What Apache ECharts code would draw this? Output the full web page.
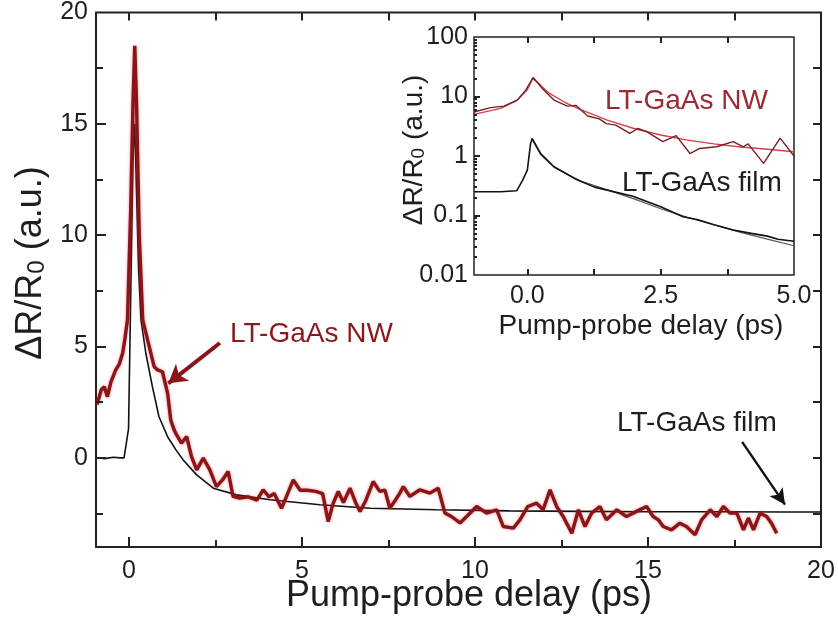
<!DOCTYPE html>
<html><head><meta charset="utf-8">
<script src="https://cdn.jsdelivr.net/npm/echarts@6/dist/echarts.min.js"></script>
<style>html,body{margin:0;padding:0;background:#fff}#c{width:838px;height:628px}</style>
</head><body><div id="c"></div>
<script>
// ---- Main panel data (linear axis) ----
const nwT = [-0.92,-0.8,-0.71,-0.62,-0.52,-0.38,-0.28,-0.18,-0.11,-0.04,0.05,0.12,0.17,0.22,0.3,0.4,0.54,0.73,0.83,0.97,1.12,1.21,1.31,1.38,1.52,1.67,1.81,1.96,2.15,2.34,2.53,2.7,2.87,3.01,3.2,3.45,3.7,3.88,4.05,4.2,4.41,4.55,4.75,4.95,5.15,5.4,5.6,5.76,5.9,6.05,6.2,6.39,6.55,6.68,6.85,7.06,7.25,7.4,7.54,7.7,7.83,7.93,8.12,8.41,8.7,8.94,9.13,9.32,9.57,9.76,10.05,10.34,10.63,10.82,11.11,11.3,11.53,11.78,11.97,12.17,12.36,12.55,12.8,12.99,13.18,13.37,13.61,13.8,14.1,14.38,14.67,14.96,15.15,15.3,15.44,15.68,15.92,16.11,16.36,16.55,16.8,16.99,17.18,17.37,17.57,17.76,17.9,18.05,18.24,18.43,18.57,18.72];
const nwV = [2.4,3.05,3.2,2.75,3.4,3.95,4.2,4.7,5.4,6.2,11,16,18.5,16,10,6.2,5.3,4.1,3.95,3.87,2.9,1.7,1.25,1.03,0.66,0.96,0.06,-0.54,-0.01,-0.54,-1.29,-1.0,-0.61,-1.73,-1.8,-1.75,-1.9,-1.43,-1.75,-1.6,-2.26,-1.75,-0.99,-1.45,-1.45,-1.5,-1.6,-2.86,-2.05,-1.51,-2.0,-1.36,-2.0,-2.41,-1.9,-1.06,-1.5,-1.45,-2.26,-1.9,-1.58,-1.29,-1.73,-1.43,-1.58,-1.36,-2.47,-2.63,-2.92,-2.63,-2.18,-2.48,-2.33,-3.08,-3.15,-2.78,-2.18,-2.03,-2.33,-1.43,-2.18,-2.63,-3.38,-2.33,-3.08,-2.48,-2.18,-2.78,-2.33,-2.63,-2.4,-2.18,-2.63,-2.78,-3.08,-3.23,-2.93,-3.08,-3.45,-2.78,-2.33,-2.63,-2.18,-2.48,-2.48,-3.23,-2.7,-3.23,-2.48,-2.63,-2.93,-3.38];
const filmT = [-0.95,-0.7,-0.45,-0.25,-0.14,-0.09,-0.01,0.05,0.12,0.17,0.22,0.28,0.35,0.49,0.68,0.87,1.12,1.36,1.57,1.96,2.44,3.11,4.08,5.52,6.97,8.89,11,13,15,17,19,20];
const filmV = [0.02,-0.03,0.03,0,0,0.5,1.3,7,13.5,15,12,8.5,6.2,4.7,3.2,1.85,0.95,0.36,-0.09,-0.76,-1.36,-1.66,-1.88,-2.1,-2.26,-2.33,-2.38,-2.4,-2.42,-2.42,-2.43,-2.43];

// ---- Inset data (log axis) ----
const inNwT = [-1.0,-0.69,-0.44,-0.19,-0.03,0.11,0.28,0.5,0.75,0.91,1.13,1.35,1.48,1.66,1.92,2.07,2.23,2.54,2.79,3.05,3.23,3.55,3.86,4.05,4.14,4.43,4.74,5.0];
const inNwV = [5.5,6.5,6.9,8.7,12.8,21,13.6,8.7,6.9,7.1,4.7,4.2,3.5,3.3,2.4,2.9,2.6,1.74,2.2,1.1,1.34,1.43,1.74,1.43,1.6,0.75,2.0,1.0];
const inNwFitT = [-1,-0.5,-0.2,0,0.1,0.2,0.4,0.7,1.0,1.5,2.0,2.5,3.0,3.5,4.0,4.5,5.0];
const inNwFitV = [5.0,6.3,8.5,13,20,17,11.5,8,6,4.0,2.9,2.25,1.85,1.6,1.42,1.3,1.18];
const inFilmT = [-1,-0.5,-0.2,-0.09,0,0.06,0.09,0.25,0.5,0.88,1.26,1.98,2.5,2.92,3.2,3.5,3.86,4.2,4.5,4.7,5.0];
const inFilmV = [0.25,0.25,0.26,0.39,0.58,1.6,1.97,1.1,0.66,0.42,0.30,0.21,0.14,0.095,0.085,0.07,0.057,0.05,0.045,0.04,0.037];
const inFilmFitT = [0.09,0.25,0.5,1.0,1.5,2.0,2.5,3.0,3.5,4.0,4.5,5.0];
const inFilmFitV = [1.9,1.05,0.65,0.38,0.27,0.19,0.13,0.093,0.07,0.052,0.04,0.031];

// ---- Tick values ----
const mainXLabels = [0,5,10,15,20];
const mainXMajor = [0,5,10,15];
const mainXMinor = [2.5,7.5,12.5,17.5];
const mainYLabels = [0,5,10,15,20];
const mainYMajor = [0,5,10,15];
const mainYMinor = [-2.5,2.5,7.5,12.5,17.5];
const inXLabels = [0,2.5,5];
const inXTicks = [0,1.25,2.5,3.75];
const inYLabels = [0.01,0.1,1,10,100];
const inYMajor = [0.1,1,10];
const inYMinor = [];
[0.01,0.1,1,10].forEach(d=>{for(let k=2;k<=9;k++) inYMinor.push(+(d*k).toPrecision(3));});

const pairs = (a,b)=>a.map((t,i)=>[t,b[i]]);
const FF = "'Liberation Sans', Arial, sans-serif";
const TXT = '#1e1e1e';
const NWC = '#8a1418';

const W = 838, H = 628;
const G0 = {left:96, right:17, top:12, bottom:81};
const G1 = {left:474, right:44, top:37, bottom:353};
const mainX = {min:-0.95,max:20};
const mainY = {min:-4,max:20};
const inX = {min:-1,max:5};
const inY = {min:0.01,max:100};
const noSplit = {show:false};

// pixel -> data-unit conversion factors from grid size and axis range
const mxU = (mainX.max-mainX.min)/(W-G0.left-G0.right);
const myU = (mainY.max-mainY.min)/(H-G0.top-G0.bottom);
const ixU = (inX.max-inX.min)/(W-G1.left-G1.right);
const iyDec = Math.log10(inY.max/inY.min)/(H-G1.top-G1.bottom);

// tick segments expressed in data coordinates (drawn through the axes' scales)
function segX(vals, yEdge, dir){ return vals.map(v=>[{coord:[v,yEdge]},{coord:[v,dir(yEdge)]}]); }
function segY(vals, xEdge, dir){ return vals.map(v=>[{coord:[xEdge,v]},{coord:[dir(xEdge),v]}]); }
const mainTicks = [].concat(
  segX(mainXMajor, mainY.min, y=>y+10*myU), segX(mainXMinor, mainY.min, y=>y+7*myU),
  segX(mainXMajor.concat(mainXMinor), mainY.max, y=>y-8*myU),
  segY(mainYMajor, mainX.min, x=>x+10*mxU), segY(mainYMinor, mainX.min, x=>x+7*mxU),
  segY(mainYMajor.concat(mainYMinor), mainX.max, x=>x-8*mxU));
const insetTicks = [].concat(
  segX(inXTicks, inY.min, y=>y*Math.pow(10,6*iyDec)), segX(inXTicks, inY.max, y=>y/Math.pow(10,6*iyDec)),
  segY(inYMajor, inX.min, x=>x+6*ixU), segY(inYMinor, inX.min, x=>x+3*ixU));

function labAx(grid, pos, range, labels, lblOpt, type){
  return {type:type||'value', gridIndex:grid, position:pos, min:range.min, max:range.max,
    axisLine:{show:false, onZero:false}, splitLine:noSplit, axisTick:{show:false},
    axisLabel:Object.assign({show:true, customValues:labels, color:TXT, fontFamily:FF}, lblOpt)};
}
function tickSeries(xi, yi, segs){
  return {type:'line', xAxisIndex:xi, yAxisIndex:yi, data:[], showSymbol:false, z:8,
    markLine:{silent:true, symbol:['none','none'], label:{show:false}, animation:false,
      lineStyle:{color:'#222', width:2, type:'solid'}, data:segs}};
}

const option = {
  animation:false,
  backgroundColor:'#fff',
  grid:[
    Object.assign({show:true, borderColor:'#222', borderWidth:2, backgroundColor:'transparent'}, G0),
    Object.assign({show:true, borderColor:'#222', borderWidth:1.5, backgroundColor:'#fff'}, G1)
  ],
  xAxis:[
    labAx(0,'bottom',mainX,mainXLabels,{fontSize:25, margin:12}),
    labAx(1,'bottom',inX,inXLabels,{fontSize:25, margin:9, formatter:v=>(+v).toFixed(1)})
  ],
  yAxis:[
    labAx(0,'left',mainY,mainYLabels,{fontSize:25, margin:8}),
    Object.assign(labAx(1,'left',inY,inYLabels,{fontSize:25, margin:6, formatter:v=>String(+(+v).toPrecision(2))},'log'),{logBase:10})
  ],
  series:[
    {type:'line', xAxisIndex:0, yAxisIndex:0, data:pairs(filmT,filmV), showSymbol:false,
      lineStyle:{color:'#111', width:1.6}, z:3},
    {type:'line', xAxisIndex:0, yAxisIndex:0, data:pairs(nwT,nwV), showSymbol:false,
      lineStyle:{color:NWC, width:3.4, shadowColor:'rgba(220,40,40,0.55)', shadowBlur:3}, z:4,
      markLine:{silent:true, symbol:['none','arrow'], symbolSize:[16,18], label:{show:false},
        lineStyle:{color:NWC, width:4, type:'solid'},
        data:[[{coord:[2.63,5.16]},{coord:[1.14,3.35]}]]}},
    {type:'line', xAxisIndex:0, yAxisIndex:0, data:[], showSymbol:false,
      markLine:{silent:true, symbol:['none','arrow'], symbolSize:[12,16], label:{show:false},
        lineStyle:{color:'#111', width:2.4, type:'solid'},
        data:[[{coord:[17.72,0.72]},{coord:[18.96,-2.1]}]]}},
    tickSeries(0,0,mainTicks),
    {type:'line', xAxisIndex:1, yAxisIndex:1, data:pairs(inFilmFitT,inFilmFitV), showSymbol:false,
      lineStyle:{color:'#555', width:1.2}, z:3},
    {type:'line', xAxisIndex:1, yAxisIndex:1, data:pairs(inFilmT,inFilmV), showSymbol:false,
      lineStyle:{color:'#111', width:1.6}, z:4},
    {type:'line', xAxisIndex:1, yAxisIndex:1, data:pairs(inNwFitT,inNwFitV), showSymbol:false,
      lineStyle:{color:'#d0424c', width:1.4}, z:3},
    {type:'line', xAxisIndex:1, yAxisIndex:1, data:pairs(inNwT,inNwV), showSymbol:false,
      lineStyle:{color:'#7a1e26', width:1.4}, z:4},
    tickSeries(1,1,insetTicks)
  ],
  graphic:[
    {type:'text', x:28, y:263, rotation:Math.PI/2, z:10, style:{
      text:'{a|ΔR/R}{s|0}{a| (a.u.)}', align:'center', verticalAlign:'middle', fill:TXT,
      rich:{a:{fontSize:36, fontFamily:FF, fill:TXT, lineHeight:42, verticalAlign:'bottom'},
            s:{fontSize:24, fontFamily:FF, fill:TXT, lineHeight:16, verticalAlign:'bottom'}}}},
    {type:'text', x:469, y:596, z:10, style:{text:'Pump-probe delay (ps)', fontSize:36, fontFamily:FF, fill:TXT, align:'center', verticalAlign:'middle'}},
    {type:'text', x:412, y:150, rotation:Math.PI/2, z:10, style:{
      text:'{a|ΔR/R}{s|0}{a| (a.u.)}', align:'center', verticalAlign:'middle', fill:TXT,
      rich:{a:{fontSize:28, fontFamily:FF, fill:TXT, lineHeight:32, verticalAlign:'bottom'},
            s:{fontSize:19, fontFamily:FF, fill:TXT, lineHeight:12, verticalAlign:'bottom'}}}},
    {type:'text', x:641, y:326, z:10, style:{text:'Pump-probe delay (ps)', fontSize:28, fontFamily:FF, fill:TXT, align:'center', verticalAlign:'middle'}},
    {type:'text', x:230, y:334, z:10, style:{text:'LT-GaAs NW', fontSize:28, fontFamily:FF, fill:'#8b1a1e', align:'left', verticalAlign:'middle'}},
    {type:'text', x:617, y:423, z:10, style:{text:'LT-GaAs film', fontSize:28, fontFamily:FF, fill:TXT, align:'left', verticalAlign:'middle'}},
    {type:'text', x:605, y:101, z:10, style:{text:'LT-GaAs NW', fontSize:28, fontFamily:FF, fill:'#9a2a34', align:'left', verticalAlign:'middle'}},
    {type:'text', x:622, y:183, z:10, style:{text:'LT-GaAs film', fontSize:28, fontFamily:FF, fill:TXT, align:'left', verticalAlign:'middle'}}
  ]
};
const chart = echarts.init(document.getElementById('c'), null, {renderer:'canvas'});
chart.setOption(option);
</script></body></html>
